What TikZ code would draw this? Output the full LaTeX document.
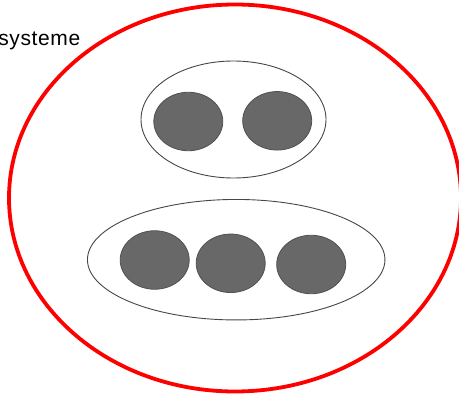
\documentclass[tikz,border=0pt]{standalone}
\usepackage{fontspec}
\setmainfont{Liberation Sans}
\newfontfamily\labelfont[LetterSpace=3]{Liberation Sans}
\usetikzlibrary{shapes.geometric}
\definecolor{ballgray}{RGB}{104,104,104}
\definecolor{balledge}{RGB}{80,80,80}
\definecolor{groupedge}{RGB}{70,70,70}
\begin{document}
\begin{tikzpicture}[x=1pt,y=-1pt,
  ball/.style={ellipse, draw=balledge, fill=ballgray, line width=0.8pt, inner sep=0pt, minimum width=69pt, minimum height=58.5pt},
  group/.style={ellipse, draw=groupedge, line width=0.9pt, inner sep=0pt},
  system/.style={draw=red, line width=3.8pt}]
\useasboundingbox (0,0) rectangle (459,396);
\draw[system] (235,198) ellipse [x radius=226, y radius=193.5];
\node[anchor=base east, inner sep=0pt, font=\labelfont\fontsize{21}{25}\selectfont] (label) at (80.5,46) {systeme};
\node[group, minimum width=185pt, minimum height=117pt] (g1) at (233.5,119.5) {};
\node[group, minimum width=297.5pt, minimum height=120.5pt] (g2) at (236.2,259.7) {};
\node[ball] (b1) at (188.3,121.5) {};
\node[ball] (b2) at (277.2,120.8) {};
\node[ball] (b3) at (154.7,260) {};
\node[ball] (b4) at (230.7,263.3) {};
\node[ball] (b5) at (311.2,264.5) {};
\end{tikzpicture}
\end{document}
